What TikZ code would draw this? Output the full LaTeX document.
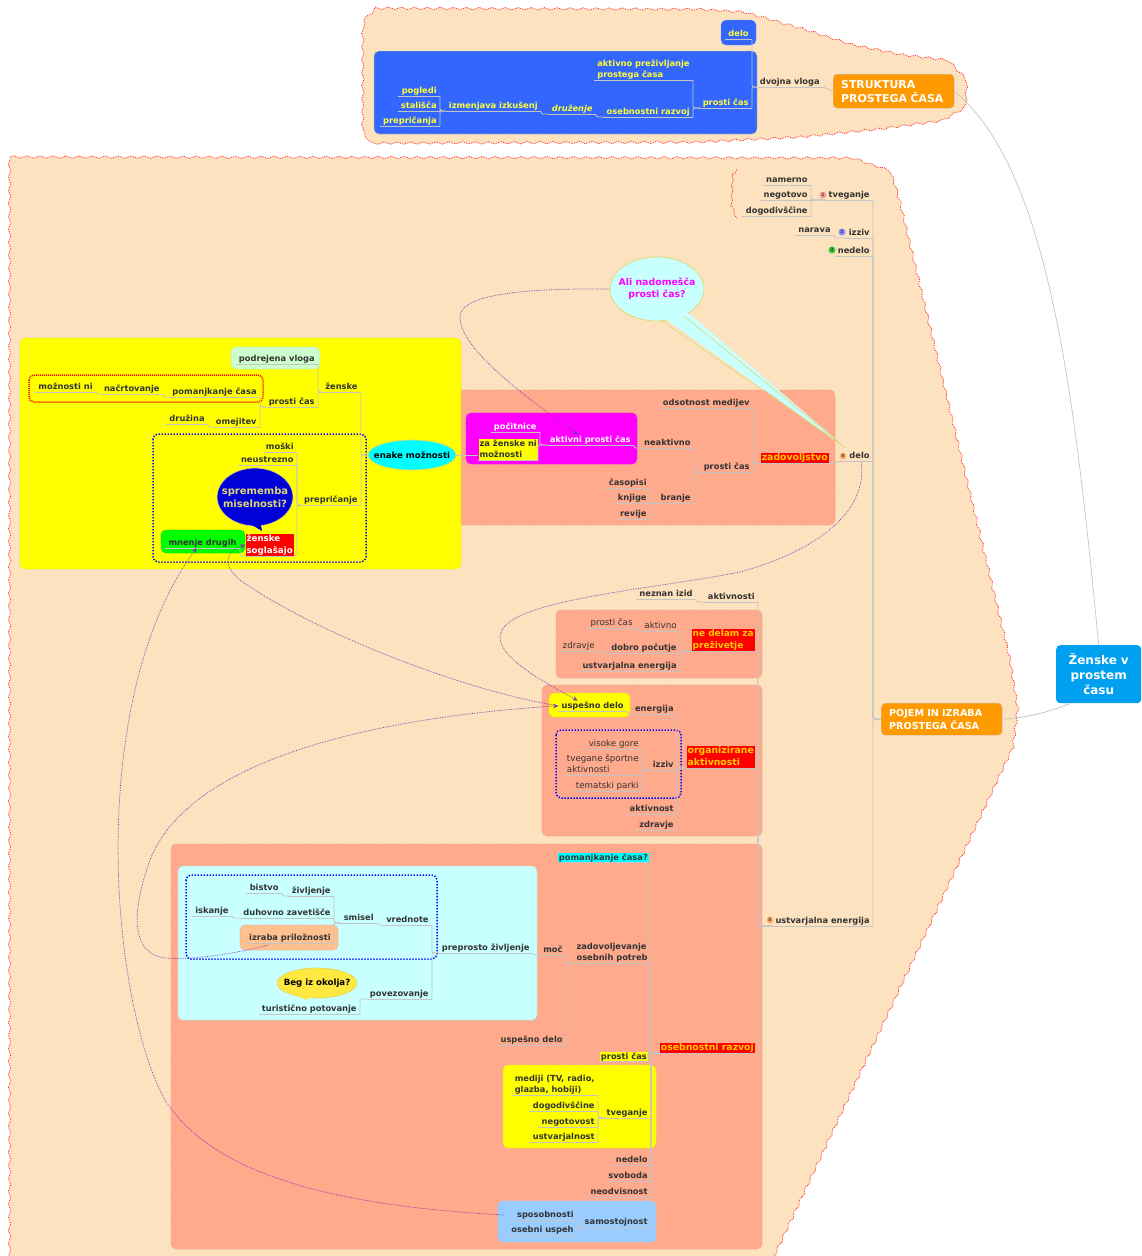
\documentclass[tikz,border=0pt]{standalone}
\usepackage{fontspec}
\setmainfont{DejaVu Sans}
\usetikzlibrary{arrows.meta,decorations.pathmorphing,shapes.geometric}

\definecolor{peach}{HTML}{FDE2BF}
\definecolor{salmon}{HTML}{FFAA8C}
\definecolor{waterc}{HTML}{C8FFFF}
\definecolor{deepblue}{HTML}{3366FF}
\definecolor{skyb}{HTML}{99CCFF}
\definecolor{orangeb}{HTML}{FF9900}
\definecolor{rootb}{HTML}{00A0F0}
\definecolor{ink}{HTML}{333333}
\definecolor{wire}{HTML}{C4C4C4}
\definecolor{linkv}{HTML}{7A35B5}
\definecolor{goldt}{HTML}{FFCC00}
\definecolor{lemon}{HTML}{FFFF33}
\definecolor{edgey}{HTML}{DDD870}
\definecolor{pyel}{HTML}{FFFF00}
\definecolor{pcya}{HTML}{00FFFF}
\definecolor{pmag}{HTML}{FF00FF}
\definecolor{begy}{HTML}{FFE840}
\definecolor{izrab}{HTML}{FFC090}
\definecolor{palegr}{HTML}{CCFFCC}
\newcommand{\mmstrut}{\vrule width 0pt height 6.3pt depth 1.8pt\relax}

\begin{document}
\begin{tikzpicture}[x=1pt,y=-1pt]
        \tikzset{lab/.style={anchor=south east,align=left,inner xsep=3.2pt,inner ysep=.8pt,text=ink,
            font=\fontsize{8.3}{11}\selectfont\bfseries,
            execute at begin node=\mmstrut,execute at end node=\mmstrut,
            append after command={(\tikzlastnode.south west) edge[conn] (\tikzlastnode.south east)}},
        thin/.style={lab,font=\fontsize{8.7}{11}\selectfont},
        blab/.style={lab,text=lemon},
        conn/.style={draw=wire,line width=.9pt,rounded corners=1.5pt},
        zone/.style={rounded corners=5pt,densely dotted,line width=.7pt},
        frame/.style={rounded corners=5pt,draw=blue,line width=1.5pt,dash pattern=on 1.4pt off 1.6pt},
        cloudy/.style={fill=peach,draw=red!85,line width=.8pt,densely dotted,decorate,
            decoration={snake,amplitude=1.2pt,segment length=13pt}},
        redbox/.style={lab,fill=red,text=goldt,inner xsep=1pt,inner ysep=.5pt,
            font=\fontsize{9.3}{12}\selectfont\bfseries},
        topic/.style={draw=wire,fill=orangeb,rounded corners=4pt,text=white,align=left,anchor=north west,
            font=\fontsize{10.9}{14}\selectfont\bfseries,inner sep=0pt,text width=105pt,inner xsep=8pt},
        bubble/.style={draw=edgey,ellipse,inner xsep=-7pt,inner ysep=0pt,align=center,line width=.7pt,
            font=\fontsize{8.6}{12}\selectfont\bfseries},
        prio/.style={circle,inner sep=0pt,minimum size=7pt,text=ink,
            font=\fontsize{4.5}{5}\selectfont\bfseries},
        jump/.style={draw=linkv,densely dotted,line width=.7pt,-{Stealth[length=5pt,width=4.5pt]}},
        jumpend/.style={draw=wire,line width=.7pt}
        }
        \useasboundingbox (0,0) rectangle (1141,1256);
        \clip (0,0) rectangle (1141,1256);

%% boundaries
        \draw[cloudy] (364,20) -- (372,12) -- (700,13) -- (745,16) -- (800,32) -- (850,48) -- (900,58) -- (950,64)
            -- (965,80) -- (964,108) -- (940,122) -- (880,130) -- (800,138) -- (700,143) -- (372,144) -- (364,132) -- cycle;
        \draw[cloudy] (10,157) -- (850,158) -- (885,170) -- (893,195) -- (1005,660) -- (1013,710)
            -- (1008,750) -- (765,1268) -- (10,1268) -- cycle;
        \draw[red!85,line width=.8pt,densely dotted,decorate,decoration={snake,amplitude=.8pt,segment length=10pt}]
            (737,169) -- (733,175) -- (732,205) -- (737,219);

%% areas
        \draw[zone,draw=deepblue!70!white,fill=deepblue] (721,20) rectangle (756,45);
        \draw[zone,draw=lemon!70!deepblue,fill=deepblue] (374,51) rectangle (757,134);
        \draw[zone,draw=salmon!80!gray,fill=salmon] (450,390) rectangle (835,525);
        \draw[zone,draw=pyel!80!gray,fill=pyel] (20,338) rectangle (461,569);
        \draw[zone,draw=pmag,fill=pmag] (466,413) rectangle (637,464);
        \draw[zone,draw=salmon!80!gray,fill=salmon] (556,610) rectangle (762,678);
        \draw[zone,draw=salmon!80!gray,fill=salmon] (542,685) rectangle (762,836);
        \draw[zone,draw=salmon!80!gray,fill=salmon] (171,844) rectangle (762,1249);
        \draw[zone,draw=waterc!80!gray,fill=waterc] (178,866) rectangle (537,1020);
        \draw[zone,draw=pyel!80!gray,fill=pyel] (503,1065) rectangle (656,1148);
        \draw[zone,draw=skyb,fill=skyb] (498,1201) rectangle (656,1242);
        \draw[zone,draw=green!80!black,fill=green] (161,530) rectangle (245,553);
        \draw[zone,draw=pyel!80!gray,fill=pyel] (549,693) rectangle (630,717);
        \draw[zone,draw=salmon!80!gray,fill=izrab] (240,925) rectangle (338,950);
        \draw[zone,draw=palegr!80!gray,fill=palegr] (231,347) rectangle (320,369);
        \draw[frame,draw=red,dash pattern=on 1pt off 1pt] (29,375) rectangle (263,402);
        \draw[frame] (153,434) rectangle (366,562);
        \draw[frame] (556,730) rectangle (681,798);
        \draw[frame] (186,875) rectangle (437,959);

%% main topics
        \node [topic,fill=rootb,draw=none,text width=85pt,inner xsep=0pt,minimum height=58pt,align=center,
            font=\fontsize{12}{15}\selectfont\bfseries] (root) at (1056,645) {Ženske v\\prostem\\času};
        \node [topic,minimum height=34pt] (struktura) at (833,74) {STRUKTURA\\PROSTEGA ČASA};
        \node [topic,minimum height=32pt,font=\fontsize{9.6}{13}\selectfont\bfseries] (pojem) at (881,703) {POJEM IN IZRABA\\PROSTEGA ČASA};

%% struktura
        \node [lab] (dvojna) at (823,87) {dvojna vloga};
        \node [blab] (gorDelo) at (752,39) {delo};
        \node [blab] (gorProsti) at (752,108) {prosti čas};
        \node [blab] (aktivnoPrez) at (693,80) {aktivno preživljanje\\prostega časa};
        \node [blab] (gorOseb) at (693,117) {osebnostni razvoj};
        \node [blab,font=\fontsize{8.3}{11}\selectfont\bfseries\itshape] (druzenje) at (596,114) {druženje};
        \node [blab] (izmenjava) at (541,111) {izmenjava izkušenj};
        \node [blab] (pogledi) at (440,96) {pogledi};
        \node [blab] (stalisca) at (440,111) {stališča};
        \node [blab] (gorPrep) at (440,126) {prepričanja};

%% pojem, right side
        \node [lab] (tveganje) at (873,200) {tveganje};
        \node [prio,fill=red!40] (prioA) at (823,195) {1};
        \node [lab] (namerno) at (811,185) {namerno};
        \node [lab] (negotovo) at (811,200) {negotovo};
        \node [lab] (dogodiv) at (811,216) {dogodivščine};
        \node [lab] (izziv) at (873,238) {izziv};
        \node [prio,fill=blue!45] (prioB) at (842,232) {2};
        \node [lab] (narava) at (834,235) {narava};
        \node [lab] (nedelo) at (873,256) {nedelo};
        \node [prio,fill=green!60!gray] (prioC) at (832,250) {3};
        \node [lab] (delo) at (873,461) {delo};
        \node [prio,fill=orange!60] (prioD) at (843,456) {4};
        \node [lab] (ustvarjalna) at (873,926) {ustvarjalna energija};
        \node [prio,fill=orange!60] (prioE) at (770,920) {5};

%% zadovoljstvo
        \node [redbox] (zadovolj) at (829,463) {zadovoljstvo};
        \node [lab] (odsotnost) at (753,408) {odsotnost medijev};
        \node [lab] (zadProsti) at (753,472) {prosti čas};
        \node [lab] (neaktivno) at (694,448) {neaktivno};
        \node [lab] (branje) at (694,503) {branje};
        \node [lab] (casopisi) at (650,488) {časopisi};
        \node [lab] (knjige) at (650,503) {knjige};
        \node [lab] (revije) at (650,519) {revije};
        \node [lab,text=white] (aktivniPr) at (634,445) {aktivni prosti čas};
        \node [lab,text=white] (pocitnice) at (540,432) {počitnice};
        \node [lab,fill=pyel,inner xsep=1pt] (zaZenske) at (538,460) {za ženske ni\\možnosti};

%% enake moznosti
        \node [bubble,fill=pcya,minimum width=86pt,minimum height=30pt] (enake) at (412,455) {enake možnosti};
        \node [lab] (zenske) at (361,392) {ženske};
        \node [lab] (prepricanje) at (361,505) {prepričanje};
        \node [lab] (podrejena) at (318,364) {podrejena vloga};
        \node [lab] (levProsti) at (318,407) {prosti čas};
        \node [lab] (pomanjLev) at (260,397) {pomanjkanje časa};
        \node [lab] (omejitev) at (260,427) {omejitev};
        \node [lab] (nacrt) at (163,394) {načrtovanje};
        \node [lab] (moznostiNi) at (96,392) {možnosti ni};
        \node [lab] (druzina) at (208,424) {družina};
        \node [lab] (moski) at (297,452) {moški};
        \node [lab] (neustrezno) at (297,465) {neustrezno};
        \node [redbox,text=white,font=\fontsize{8.7}{12}\selectfont\bfseries] (soglasajo) at (294,556) {ženske\\soglašajo};
        \node [lab] (mnenje) at (240,548) {mnenje drugih};
        \node [bubble,fill=blue!85!black,text=edgey,minimum width=76pt,minimum height=58pt,
            font=\fontsize{10}{13}\selectfont\bfseries] (sprememba) at (255,497) {sprememba\\miselnosti?};
        \fill[blue!85!black] (247,522) -- (262,531) -- (260,520) -- cycle;

%% vprasanje
        \node [bubble,fill=waterc,text=pmag,minimum width=94pt,minimum height=64pt,
            font=\fontsize{9.4}{12}\selectfont\bfseries] (nadomesca) at (657,289) {Ali nadomešča\\prosti čas?};
        \fill[waterc] (660,315) -- (846,448) -- (685,310) -- cycle;
        \draw[edgey,line width=.6pt] (661,320) -- (846,448) -- (684,316);

%% aktivnosti
        \node [lab] (aktivnosti) at (758,602) {aktivnosti};
        \node [lab] (neznan) at (696,599) {neznan izid};
        \node [redbox,font=\fontsize{9}{12}\selectfont\bfseries] (neDelam) at (755,651) {ne delam za\\preživetje};
        \node [thin] (aktivno) at (680,631) {aktivno};
        \node [thin] (nedProsti) at (636,628) {prosti čas};
        \node [lab] (dobro) at (680,653) {dobro počutje};
        \node [thin] (nedZdravje) at (598,651) {zdravje};
        \node [lab] (nedUstv) at (680,671) {ustvarjalna energija};
        \node [redbox] (organiz) at (755,768) {organizirane\\aktivnosti};
        \node [lab] (energija) at (677,714) {energija};
        \node [lab] (uspesno) at (627,711) {uspešno delo};
        \node [lab] (orgIzziv) at (677,770) {izziv};
        \node [lab] (aktivnost) at (677,814) {aktivnost};
        \node [lab] (orgZdravje) at (677,830) {zdravje};
        \node [thin] (visoke) at (642,749) {visoke gore};
        \node [thin] (tvegane) at (642,775) {tvegane športne\\aktivnosti};
        \node [thin] (tematski) at (642,791) {tematski parki};

%% osebnostni razvoj
        \node [redbox] (osebnostni) at (755,1053) {osebnostni razvoj};
        \node [lab,fill=pcya,inner xsep=1pt,inner ysep=0pt] (pomanjVpr) at (649,862) {pomanjkanje časa?};
        \node [lab] (zadovoljev) at (651,963) {zadovoljevanje\\osebnih potreb};
        \node [lab,fill=pyel,inner xsep=1pt,inner ysep=0pt] (osProsti) at (648,1061) {prosti čas};
        \node [lab] (osTveg) at (651,1118) {tveganje};
        \node [lab] (osNedelo) at (651,1165) {nedelo};
        \node [lab] (svoboda) at (651,1181) {svoboda};
        \node [lab] (neodvisnost) at (651,1197) {neodvisnost};
        \node [lab] (samostojnost) at (651,1227) {samostojnost};
        \node [lab] (moc) at (566,955) {moč};
        \node [lab] (osUspesno) at (566,1045) {uspešno delo};
        \node [lab] (preprosto) at (533,953) {preprosto življenje};
        \node [lab] (vrednote) at (432,925) {vrednote};
        \node [lab] (povezovanje) at (432,999) {povezovanje};
        \node [lab] (smisel) at (377,923) {smisel};
        \node [lab] (zivljenje) at (334,896) {življenje};
        \node [lab] (duhovno) at (334,918) {duhovno zavetišče};
        \node [lab] (izraba) at (334,943) {izraba priložnosti};
        \node [lab] (bistvo) at (282,893) {bistvo};
        \node [lab] (iskanje) at (232,916) {iskanje};
        \node [lab] (turisticno) at (360,1014) {turistično potovanje};
        \node [bubble,fill=begy,minimum width=80pt,minimum height=30pt] (beg) at (317,983) {Beg iz okolja?};
        \fill[begy] (298,996) -- (306,1000) -- (311,995) -- cycle;
        \node [lab] (mediji) at (598,1095) {mediji (TV, radio,\\glazba, hobiji)};
        \node [lab] (osDogod) at (598,1111) {dogodivščine};
        \node [lab] (negotovost) at (598,1127) {negotovost};
        \node [lab] (ustvarjalnost) at (598,1142) {ustvarjalnost};
        \node [lab] (sposobnosti) at (577,1220) {sposobnosti};
        \node [lab] (osebni) at (577,1235) {osebni uspeh};

%% paths
        \foreach \kid/\mom in {gorDelo/dvojna,gorProsti/dvojna,aktivnoPrez/gorProsti,gorOseb/gorProsti,
            druzenje/gorOseb,izmenjava/druzenje,pogledi/izmenjava,stalisca/izmenjava,gorPrep/izmenjava,
            namerno/tveganje,negotovo/tveganje,dogodiv/tveganje,narava/izziv,
            odsotnost/zadovolj,zadProsti/zadovolj,neaktivno/zadProsti,branje/zadProsti,
            casopisi/branje,knjige/branje,revije/branje,aktivniPr/neaktivno,pocitnice/aktivniPr,zaZenske/aktivniPr,
            podrejena/zenske,levProsti/zenske,pomanjLev/levProsti,omejitev/levProsti,nacrt/pomanjLev,
            moznostiNi/nacrt,druzina/omejitev,moski/prepricanje,neustrezno/prepricanje,
            mnenje/soglasajo,neznan/aktivnosti,aktivno/neDelam,nedProsti/aktivno,dobro/neDelam,nedZdravje/dobro,
            nedUstv/neDelam,energija/organiz,uspesno/energija,orgIzziv/organiz,aktivnost/organiz,orgZdravje/organiz,
            visoke/orgIzziv,tvegane/orgIzziv,tematski/orgIzziv,pomanjVpr/osebnostni,zadovoljev/osebnostni,
            osProsti/osebnostni,osTveg/osebnostni,osNedelo/osebnostni,svoboda/osebnostni,neodvisnost/osebnostni,
            samostojnost/osebnostni,moc/zadovoljev,osUspesno/zadovoljev,preprosto/moc,vrednote/preprosto,
            povezovanje/preprosto,smisel/vrednote,zivljenje/smisel,duhovno/smisel,izraba/smisel,bistvo/zivljenje,
            iskanje/duhovno,turisticno/povezovanje,mediji/osTveg,osDogod/osTveg,negotovost/osTveg,ustvarjalnost/osTveg,
            sposobnosti/samostojnost,osebni/samostojnost}
            \draw[conn] (\kid.south east) |- (\mom.south west);
        \foreach \kid in {tveganje,izziv,nedelo,delo,ustvarjalna}
            \draw[conn] (\kid.south east) |- (pojem.west);
        \foreach \kid in {neDelam,organiz,osebnostni}
            \draw[conn] (\kid.south east) -- ++(3,0) |- (ustvarjalna.south west);
        \draw[conn] (soglasajo.south east) -- ++(3,0) |- (prepricanje.south west);
        \draw[conn] (aktivnosti.south east) |- (ustvarjalna.south west);
        \draw[conn] (zadovolj.south east) -- (delo.south west);
        \draw[conn] (zenske.south east) |- (enake.west);
        \draw[conn] (prepricanje.south east) |- (enake.west);
        \draw[conn] (enake.east) -- (zaZenske.west |- enake.east);
        \draw[conn] (dvojna.south east) -- (struktura.west);
        \draw[jumpend] (root.north) .. controls (1075,400) and (1050,170) .. (struktura.east);
        \draw[jumpend] (root.south west) ++(14,0) .. controls (1050,712) and (1025,718) .. (pojem.east);

%% links
        \draw[jump] (nadomesca.west) .. controls (520,288) and (460,295) .. (460,317) .. controls (460,350) and (530,400) .. ([xshift=-12pt]aktivniPr.north);
        \draw[jump] (delo.south west) ++(15,1) .. controls (868,510) and (820,550) .. (740,572) .. controls (650,590) and (500,600) .. (500,637)
            .. controls (500,660) and (550,685) .. ([xshift=-15pt]uspesno.north);
        \draw[jump] (uspesno.west) .. controls (460,690) and (310,630) .. (240,580) .. controls (225,568) and (222,553) .. (soglasajo.west);
        \draw[jump] (izraba.south) ++(-22,2) .. controls (230,955) and (190,960) .. (165,958) .. controls (140,955) and (125,930) .. (150,860)
            .. controls (185,770) and (340,720) .. (uspesno.west);
        \draw[jump] (sposobnosti.west) ++(-10,0) .. controls (320,1205) and (210,1170) .. (165,1100) .. controls (110,1000) and (85,700) .. ([xshift=-6pt]mnenje.south);
\end{tikzpicture}
\end{document}
